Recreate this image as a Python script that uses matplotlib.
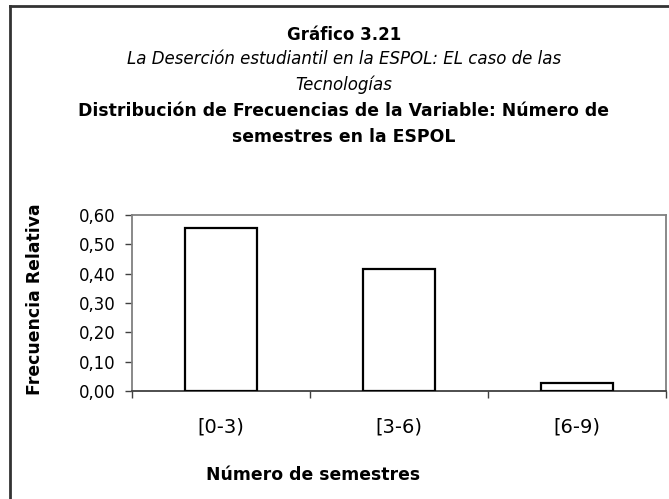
import matplotlib
matplotlib.use("Agg")
import matplotlib.pyplot as plt
from matplotlib.lines import Line2D

plt.rcParams['font.family'] = ['DejaVu Sans']

categories = ["[0-3)", "[3-6)", "[6-9)"]
values = [0.557, 0.415, 0.028]
yticks = [0.0, 0.1, 0.2, 0.3, 0.4, 0.5, 0.6]
ytick_labels = ["0,00", "0,10", "0,20", "0,30", "0,40", "0,50", "0,60"]

W, H = 669, 499
fig = plt.figure(figsize=(W / 100, H / 100), dpi=100)
ax = fig.add_axes([132 / W, 1 - 391 / H, (666 - 132) / W, (391 - 215) / H])

x = list(range(len(categories)))
ax.bar(x, values, width=0.4, color="white", edgecolor="black", linewidth=1.6, zorder=3)
ax.set_xlim(-0.5, 2.5)
ax.set_ylim(0, 0.6)
ax.set_yticks(yticks)
ax.set_yticklabels(ytick_labels, fontsize=11.9)
ax.set_xticks(x)
ax.set_xticklabels(categories, fontsize=14)
ax.set_xticks([-0.5, 0.5, 1.5, 2.5], minor=True)
ax.tick_params(axis='x', which='major', length=0, pad=19)
ax.tick_params(axis='x', which='minor', length=5, color='#404040', width=1)
ax.tick_params(axis='y', length=5, color='#404040', width=1, pad=7)

for s in ['top', 'right', 'left']:
    ax.spines[s].set_color('#808080')
    ax.spines[s].set_linewidth(1.3)
ax.spines['bottom'].set_color('#404040')
ax.spines['bottom'].set_linewidth(1.3)

fig.text(35 / W, 1 - 299 / H, "Frecuencia Relativa", rotation=90, fontsize=12.4,
         fontweight='bold', ha='center', va='center')

fig.text(313 / W, 1 - 475 / H, "Número de semestres", fontsize=12.4, fontweight='bold',
         ha='center', va='center')

cx = 344 / W
fig.text(cx, 1 - 35 / H, "Gráfico 3.21", fontsize=12, fontweight='bold', ha='center', va='center')
fig.text(cx, 1 - 59 / H, "La Deserción estudiantil en la ESPOL: EL caso de las",
         fontsize=12, style='italic', ha='center', va='center')
fig.text(cx, 1 - 85 / H, "Tecnologías", fontsize=12, style='italic', ha='center', va='center')
fig.text(cx, 1 - 111 / H, "Distribución de Frecuencias de la Variable: Número de",
         fontsize=12.4, fontweight='bold', ha='center', va='center')
fig.text(cx, 1 - 137 / H, "semestres en la ESPOL", fontsize=12.4, fontweight='bold',
         ha='center', va='center')

# outer border (left and top)
fig.add_artist(Line2D([10 / W, 10 / W], [0, 1 - 6 / H], transform=fig.transFigure,
                      color='#333333', linewidth=2))
fig.add_artist(Line2D([10 / W, 1], [1 - 6 / H, 1 - 6 / H], transform=fig.transFigure,
                      color='#333333', linewidth=2))

fig.savefig("out.png", dpi=100)
